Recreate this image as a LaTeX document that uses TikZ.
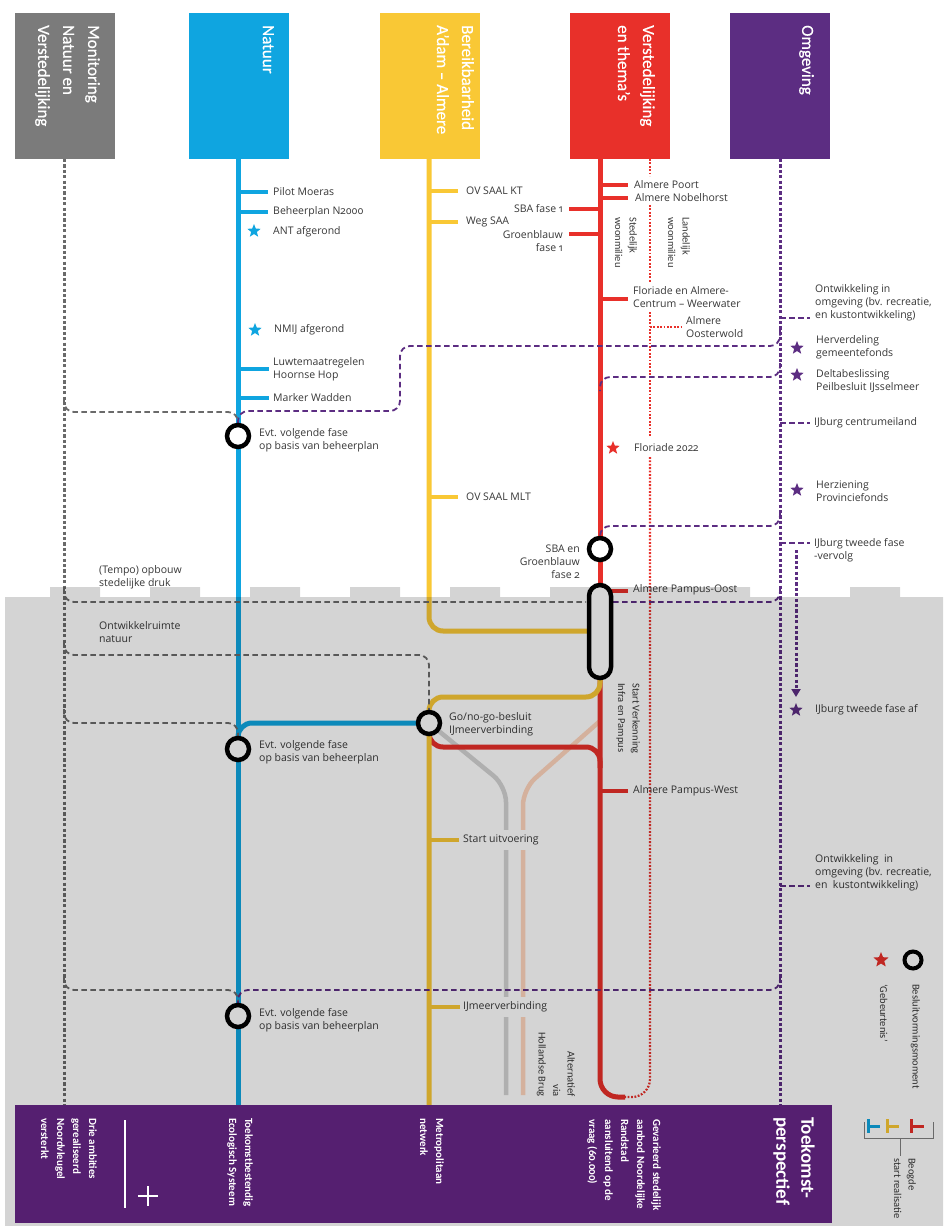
\documentclass[tikz,border=0pt]{standalone}
\usepackage{fontspec}
\setmainfont{Open Sans}[Numbers=OldStyle]
\newfontfamily\cfont{Carlito}[Numbers=OldStyle]
\newfontfamily\hfont{Carlito}[FakeBold=0.5,Ligatures=TeX]
\usetikzlibrary{shapes.geometric,arrows.meta}
\definecolor{cblue}{HTML}{0FA5E0}
\definecolor{cyel}{HTML}{F9C835}
\definecolor{cred}{HTML}{E8302A}
\definecolor{cpur}{HTML}{5C2D82}
\definecolor{chgray}{HTML}{7B7B7B}
\definecolor{cbot}{HTML}{551F70}
\definecolor{ctxt}{HTML}{383838}
\definecolor{cdash}{HTML}{6A6A6A}
\definecolor{calt}{HTML}{D3D3D3}
\definecolor{csal}{HTML}{FFD5BD}
\begin{document}
\begin{tikzpicture}[x=1pt,y=-1pt,
  hbox/.style={minimum width=100pt,minimum height=146pt,inner sep=0pt,draw=none},
  htxt/.style={rotate=-90,anchor=north west,text=white,font=\hfont\fontsize{17}{25}\selectfont,align=left,inner sep=0pt},
  btxt/.style={rotate=-90,anchor=north west,text=white,font=\cfont\bfseries\fontsize{11}{16}\selectfont,align=left,inner sep=0pt},
  rtxt/.style={rotate=-90,anchor=north west,text=ctxt,font=\cfont\fontsize{10.5}{14.5}\selectfont,align=left,inner sep=0pt},
  lbl/.style={font=\fontsize{10.5}{13}\selectfont,text=ctxt,inner sep=0pt,align=left,anchor=west},
  lblr/.style={font=\fontsize{10.5}{13}\selectfont,text=ctxt,inner sep=0pt,align=right,anchor=east},
  knock/.style={fill=white,inner xsep=1pt,inner ysep=5pt},
  bline/.style={cblue,line width=5pt},
  yline/.style={cyel,line width=5pt},
  rline/.style={cred,line width=5pt},
  tickb/.style={cblue,line width=4pt},
  ticky/.style={cyel,line width=4pt},
  tickr/.style={cred,line width=4pt},
  altg/.style={calt,line width=4.5pt},
  alts/.style={csal,line width=4.5pt},
  mdot/.style={line width=3pt,dash pattern=on 3.2pt off 2.2pt},
  rdot/.style={cred,line width=2.2pt,dash pattern=on 1.8pt off 1.6pt},
  gdash/.style={cdash,line width=1.8pt,dash pattern=on 5.5pt off 3.5pt,rounded corners=10pt},
  pdash/.style={cpur,line width=1.8pt,dash pattern=on 5.5pt off 3.5pt,rounded corners=10pt},
  circ/.style={circle,draw=black,line width=4.5pt,fill=white,minimum size=22pt,inner sep=0pt},
  starn/.style={star,star points=5,star point ratio=2.3,inner sep=0pt,minimum size=14pt,draw=none}
]
\useasboundingbox (0,0) rectangle (943,1226);
\fill[white] (0,0) rectangle (943,1226);

% ---------- header boxes
\node[hbox,fill=chgray] (hmon) at (65,86) {};
\node[hbox,fill=cblue] (hnat) at (239,86) {};
\node[hbox,fill=cyel] (hber) at (430,86) {};
\node[hbox,fill=cred] (hver) at (620,86) {};
\node[hbox,fill=cpur] (homg) at (780,86) {};
\node[htxt] (tmon) at (100,25) {Monitoring\\Natuur en\\Verstedelijking};
\node[htxt] (tnat) at (274,25) {Natuur};
\node[htxt] (tber) at (474,25) {Bereikbaarheid\\A’dam – Almere};
\node[htxt] (tver) at (655,25) {Verstedelijking\\en thema’s};
\node[htxt] (tomg) at (814,25) {Omgeving};

% ---------- key coordinates
\coordinate (go) at (429,723);
\coordinate (c1p) at (238,436);
\coordinate (c2p) at (238,749);
\coordinate (c3p) at (238,1016);
\coordinate (c4p) at (600,549);

% ---------- dotted verticals
\draw[mdot,cdash] (64,159) -- (64,1105);
\draw[mdot,cpur] (780,159) -- (780,1105);
\draw[rdot] (650,159) -- (650,176);
\draw[rdot] (650,205) -- (650,283);
\draw[rdot] (650,312) -- (650,437);
\draw[rdot,rounded corners=18pt] (650,457) -- (650,1097) -- (625,1097);
\draw[rdot] (650,327) -- (682,327);

% ---------- alternative lines
\draw[altg,rounded corners=16pt] (go) -- (506,786) -- (506,1095);
\draw[alts,rounded corners=16pt] (600,721) -- (523,789) -- (523,1095);

% ---------- blue
\draw[bline] (238,159) -- (238,1105);
\draw[bline,rounded corners=14pt] (go) -- (238,723) -- (238,745);
\draw[tickb] (238,192) -- (268,192);
\draw[tickb] (238,212) -- (268,212);
\draw[tickb] (238,369) -- (269,369);
\draw[tickb] (238,398) -- (269,398);

% ---------- red
\draw[rline] (600,159) -- (600,585);
\draw[rline,rounded corners=18pt] (600,678) -- (600,1097) -- (625,1097);
\draw[rline,rounded corners=14pt] (go) -- (429,747) -- (600,747) -- (600,768);
\draw[tickr] (600,185) -- (628,185);
\draw[tickr] (600,198) -- (628,198);
\draw[tickr] (569,209) -- (600,209);
\draw[tickr] (569,234) -- (600,234);
\draw[tickr] (600,299) -- (628,299);
\draw[tickr] (611,591) -- (628,591);
\draw[tickr] (600,791) -- (628,791);

% ---------- yellow
\draw[yline,rounded corners=14pt] (429,159) -- (429,631) -- (589,631);
\draw[yline,rounded corners=14pt] (600,678) -- (600,697) -- (429,697) -- (429,1105);
\draw[ticky] (429,191) -- (458,191);
\draw[ticky] (429,222) -- (458,222);
\draw[ticky] (429,497) -- (458,497);
\draw[ticky] (429,840) -- (459,840);
\draw[ticky] (429,1007) -- (460,1007);

% ---------- dashed connectors
\draw[gdash] (64,398) -- (64,412) -- (238,412) -- (238,425);
\draw[pdash] (780,330) -- (780,346) -- (400,346) -- (400,411) -- (238,411) -- (238,425);
\draw[pdash] (780,363) -- (780,377) -- (600,377) -- (600,391);
\draw[pdash] (780,512) -- (780,526) -- (600,526) -- (600,540);
\draw[gdash] (64,588) -- (64,602) -- (586,602);
\draw[pdash] (780,588) -- (780,602) -- (613,602);
\draw[gdash] (64,641) -- (64,655) -- (429,655) -- (429,711);
\draw[gdash] (64,709) -- (64,723) -- (238,723) -- (238,737);
\draw[gdash] (64,976) -- (64,990) -- (238,990) -- (238,1004);
\draw[pdash] (780,976) -- (780,990) -- (238,990) -- (238,1004);
\draw[pdash] (780,318) -- (810,318);
\draw[pdash] (780,423) -- (810,423);
\draw[pdash] (780,543) -- (810,543);
\draw[pdash] (780,886) -- (810,886);
\draw[mdot,cpur,-{Triangle[width=9pt,length=8pt]}] (796,550) -- (796,697);

% ---------- labels: natuur
\node[lbl] (lpm) at (273,192) {Pilot Moeras};
\node[lbl] (lbh) at (273,212) {Beheerplan N2000};
\node[lbl] (lant) at (273,232) {ANT afgerond};
\node[lbl] (lnmij) at (274,330) {NMIJ afgerond};
\node[lbl] (lluw) at (273,369) {Luwtemaatregelen\\Hoornse Hop};
\node[lbl] (lmw) at (273,398) {Marker Wadden};
\node[lbl] (le1) at (259,440) {Evt. volgende fase\\op basis van beheerplan};
\node[lbl] (le2) at (259,752) {Evt. volgende fase\\op basis van beheerplan};
\node[lbl] (le3) at (259,1020) {Evt. volgende fase\\op basis van beheerplan};
% bereikbaarheid
\node[lbl] (lovkt) at (466,191) {OV SAAL KT};
\node[lbl] (lweg) at (466,222) {Weg SAA};
\node[lbl] (lovmlt) at (466,497) {OV SAAL MLT};
\node[lbl] (lgo) at (449,724) {Go/no-go-besluit\\IJmeerverbinding};
\node[lbl,knock] (lstart) at (462,840) {Start uitvoering};
\node[lbl,knock] (lijm) at (462,1007) {IJmeerverbinding};
% verstedelijking
\node[lbl] (lap) at (634,185) {Almere Poort};
\node[lbl] (lan) at (635,198) {Almere Nobelhorst};
\node[lblr] (lsba1) at (563,209) {SBA fase 1};
\node[lblr] (lgb1) at (563,241) {Groenblauw\\fase 1};
\node[lbl] (lflo) at (633,297) {Floriade en Almere-\\Centrum – Weerwater};
\node[lbl] (lost) at (686,327) {Almere\\Oosterwold};
\node[lbl] (lf22) at (634,448) {Floriade 2022};
\node[lblr] (lsba2) at (580,562) {SBA en\\Groenblauw\\fase 2};
\node[lbl] (lpo) at (633,590) {Almere Pampus-Oost};
\node[lbl] (lpw) at (633,791) {Almere Pampus-West};
\node[rtxt] (lsted) at (637,217) {Stedelijk\\woonmilieu};
\node[rtxt] (lland) at (690,217) {Landelijk\\woonmilieu};
\node[rtxt] (lverk) at (640,683) {Start Verkenning\\Infra en Pampus};
\node[rtxt,anchor=north east,align=right] (lalt) at (575,1097) {Alternatief\\via\\Hollandse Brug};
% omgeving
\node[lbl] (lo1) at (815,303) {Ontwikkeling in\\omgeving (bv. recreatie,\\en kustontwikkeling)};
\node[lbl] (lherv) at (816,347) {Herverdeling\\gemeentefonds};
\node[lbl] (ldelta) at (816,381) {Deltabeslissing\\Peilbesluit IJsselmeer};
\node[lbl] (lijc) at (814,423) {IJburg centrumeiland};
\node[lbl] (lherz) at (816,491) {Herziening\\Provinciefonds};
\node[lbl] (lij2) at (814,550) {IJburg tweede fase\\-vervolg};
\node[lbl] (lij2af) at (815,710) {IJburg tweede fase af};
\node[lbl] (lo2) at (815,873) {Ontwikkeling~ in\\omgeving (bv. recreatie,\\en~ kustontwikkeling)};
% monitoring
\node[lbl] (ltempo) at (99,577) {(Tempo) opbouw\\stedelijke druk};
\node[lbl] (lontw) at (99,632) {Ontwikkelruimte\\natuur};

% ---------- decision circles, pill, stars
\node[circ] (c1) at (c1p) {};
\node[circ] (c2) at (c2p) {};
\node[circ] (c3) at (c3p) {};
\node[circ] (c4) at (c4p) {};
\node[circ] (cgo) at (go) {};
\draw[black,line width=4.5pt,fill=white,rounded corners=11pt] (589,585) rectangle (611,678);
\node[starn,fill=cblue] (sant) at (254,231) {};
\node[starn,fill=cblue] (snmij) at (255,330) {};
\node[starn,fill=cred] (sflo) at (613,448) {};
\node[starn,fill=cpur] (sherv) at (797,348) {};
\node[starn,fill=cpur] (sdelta) at (797,375) {};
\node[starn,fill=cpur] (sherz) at (797,490) {};
\node[starn,fill=cpur] (sij2) at (796,710) {};

% ---------- legend
\node[circle,draw=black,line width=4pt,minimum size=17pt,inner sep=0pt] (lgc) at (913,960) {};
\node[starn,fill=cred,minimum size=16pt] (lgs) at (881,960) {};
\node[rtxt] (lgct) at (920,984) {Besluitvormingsmoment};
\node[rtxt] (lgst) at (888,984) {‘Gebeurtenis’};
\draw[cblue,line width=3pt] (868,1119) -- (868,1133) (868,1126) -- (880,1126);
\draw[cyel,line width=3pt] (887,1119) -- (887,1133) (887,1126) -- (899,1126);
\draw[cred,line width=3pt] (911,1119) -- (911,1133) (911,1126) -- (924,1126);
\coordinate (bl) at (864,1122);
\coordinate (br) at (933,1122);
\draw[gray,line width=0.8pt] (bl) -- (864,1138) -- (933,1138) -- (br);
\draw[gray,line width=0.8pt] (900,1138) -- (900,1156);
\node[rtxt] (lgb) at (916,1158) {Beogde\\start realisatie};

% ---------- grey overlay (lower half)
\fill[black,opacity=0.17] (5,597) rectangle (943,1226)
  (50,587) rectangle (100,598) (150,587) rectangle (200,598)
  (250,587) rectangle (300,598) (350,587) rectangle (400,598)
  (450,587) rectangle (500,598) (550,587) rectangle (750,598)
  (850,587) rectangle (900,598);

% ---------- bottom box
\node[minimum width=817pt,minimum height=118pt,inner sep=0pt,fill=cbot] (bot) at (423.5,1164) {};
\node[btxt] (b1) at (97,1118) {Drie ambities\\gerealiseerd\\Noordvleugel\\versterkt};
\draw[white,line width=1.6pt] (125,1120) -- (125,1208);
\draw[white,line width=1.6pt] (138,1196) -- (158,1196) (148,1186) -- (148,1206);
\node[btxt] (b2) at (253,1118) {Toekomstbestendig\\Ecologisch Systeem};
\node[btxt] (b3) at (444,1118) {Metropolitaan\\netwerk};
\node[btxt] (b4) at (661,1119) {Gevarieerd stedelijk\\aanbod Noordelijke\\Randstad\\aansluitend op de\\vraag (60.000)};
\node[btxt,font=\cfont\bfseries\fontsize{19}{25}\selectfont] (b5) at (815,1117) {Toekomst-\\perspectief};
\end{tikzpicture}
\end{document}
